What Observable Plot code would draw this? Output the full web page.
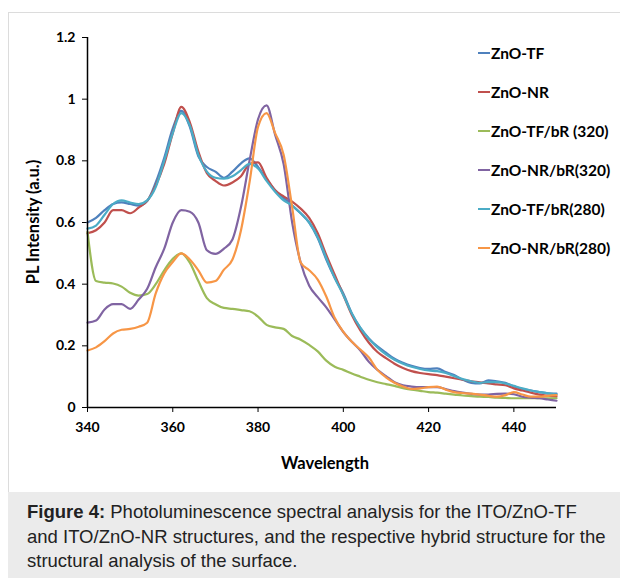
<!DOCTYPE html>
<html><head><meta charset="utf-8">
<script src="https://cdn.jsdelivr.net/npm/d3@7"></script>
<script src="https://cdn.jsdelivr.net/npm/@observablehq/plot@0.6"></script>
<style>
body{margin:0;background:#fff;}
#fig{position:relative;width:620px;height:578px;overflow:hidden;background:#fff;}
#frame{position:absolute;left:8px;top:12px;width:640px;height:481px;border:1px solid #dcdcdc;box-sizing:border-box;}
#chart{position:absolute;left:0;top:0;}
.title{position:absolute;font:bold 16.5px Lato, sans-serif;color:#000;white-space:nowrap;}
#legend .row{position:absolute;left:478px;display:flex;align-items:center;white-space:nowrap;font:bold 15.5px Lato, sans-serif;color:#000;transform:translateY(-50%);}
#legend .sw{width:12px;height:2px;margin-right:1px;}
#caption{position:absolute;left:8px;top:492px;width:612px;height:86px;background:#ebebeb;font:18.5px "Liberation Sans",Arial,sans-serif;color:#222;padding:8px 0 0 19px;box-sizing:border-box;line-height:24.5px;white-space:nowrap;}
</style></head>
<body>
<div id="fig">
  <div id="frame"></div>
  <div id="chart"></div>
  <div class="title" id="ytitle" style="left:33px;top:222px;transform:translate(-50%,-50%) rotate(-90deg);">PL Intensity (a.u.)</div>
  <div class="title" id="xtitle" style="left:325px;top:463px;transform:translate(-50%,-50%);">Wavelength</div>
  <div id="legend"></div>
  <div id="caption"><b>Figure 4:</b> Photoluminescence spectral analysis for the ITO/ZnO-TF<br>and ITO/ZnO-NR structures, and the respective hybrid structure for the<br>structural analysis of the surface.</div>
</div>
<script>
const wavelength = d3.range(340, 451, 2);
const xTicks = [340, 360, 380, 400, 420, 440];
const yTicks = [0, 0.2, 0.4, 0.6, 0.8, 1, 1.2];
const seriesNames = ["ZnO-TF", "ZnO-NR", "ZnO-TF/bR (320)", "ZnO-NR/bR(320)", "ZnO-TF/bR(280)", "ZnO-NR/bR(280)"];
const seriesColors = ["#4F81BD", "#C0504D", "#9BBB59", "#8064A2", "#4BACC6", "#F79646"];

const znoTF = [0.600,0.615,0.640,0.660,0.665,0.660,0.655,0.670,0.730,0.810,0.905,0.962,0.910,0.815,0.780,0.765,0.745,0.765,0.792,0.808,0.780,0.740,0.705,0.680,0.655,0.630,0.600,0.550,0.480,0.420,0.370,0.305,0.258,0.224,0.198,0.178,0.158,0.145,0.135,0.128,0.125,0.127,0.115,0.105,0.090,0.080,0.078,0.088,0.085,0.080,0.068,0.060,0.055,0.050,0.046,0.045];
const znoNR = [0.565,0.575,0.600,0.640,0.640,0.630,0.648,0.670,0.720,0.790,0.890,0.975,0.925,0.830,0.760,0.735,0.720,0.730,0.750,0.790,0.795,0.745,0.705,0.685,0.668,0.645,0.615,0.565,0.495,0.430,0.365,0.300,0.250,0.210,0.180,0.160,0.142,0.128,0.118,0.112,0.108,0.105,0.100,0.095,0.090,0.085,0.082,0.078,0.075,0.072,0.062,0.055,0.048,0.042,0.038,0.035];
const znoTFbR320 = [0.570,0.410,0.405,0.402,0.392,0.372,0.363,0.368,0.400,0.445,0.482,0.500,0.470,0.410,0.355,0.335,0.323,0.320,0.316,0.312,0.295,0.268,0.260,0.255,0.232,0.220,0.203,0.182,0.152,0.132,0.122,0.110,0.100,0.090,0.082,0.076,0.070,0.063,0.058,0.054,0.050,0.048,0.045,0.042,0.039,0.037,0.035,0.034,0.032,0.031,0.030,0.030,0.030,0.030,0.030,0.030];
const znoNRbR320 = [0.275,0.282,0.318,0.335,0.335,0.320,0.350,0.385,0.455,0.515,0.600,0.640,0.635,0.600,0.510,0.498,0.515,0.545,0.650,0.800,0.935,0.980,0.885,0.790,0.600,0.470,0.395,0.358,0.325,0.285,0.245,0.213,0.185,0.148,0.122,0.102,0.082,0.072,0.068,0.066,0.066,0.066,0.060,0.053,0.048,0.044,0.042,0.042,0.044,0.045,0.043,0.035,0.032,0.030,0.026,0.022];
const znoTFbR280 = [0.580,0.590,0.625,0.660,0.672,0.665,0.660,0.672,0.715,0.800,0.890,0.955,0.915,0.820,0.765,0.745,0.742,0.750,0.770,0.790,0.775,0.735,0.700,0.672,0.655,0.630,0.600,0.552,0.485,0.420,0.365,0.305,0.258,0.222,0.195,0.172,0.155,0.142,0.132,0.125,0.120,0.118,0.112,0.102,0.092,0.085,0.080,0.082,0.082,0.078,0.070,0.062,0.055,0.050,0.046,0.042];
const znoNRbR280 = [0.185,0.195,0.215,0.240,0.252,0.255,0.262,0.275,0.370,0.435,0.472,0.500,0.480,0.445,0.405,0.410,0.447,0.480,0.575,0.730,0.910,0.955,0.890,0.820,0.650,0.470,0.445,0.415,0.360,0.290,0.245,0.213,0.188,0.162,0.122,0.098,0.080,0.068,0.060,0.062,0.066,0.068,0.058,0.050,0.047,0.045,0.042,0.038,0.035,0.040,0.050,0.042,0.035,0.035,0.038,0.040];

const seriesValues = [znoTF, znoNR, znoTFbR320, znoNRbR320, znoTFbR280, znoNRbR280];
const data = seriesNames.flatMap((name, k) => seriesValues[k].map((v, i) => ({w: wavelength[i], v, name})));

const chart = Plot.plot({
  width: 620, height: 492,
  marginLeft: 87, marginRight: 64, marginTop: 37, marginBottom: 85,
  x: {domain: [340, 450]},
  y: {domain: [0, 1.2]},
  color: {domain: seriesNames, range: seriesColors},
  style: {fontFamily: "Lato, sans-serif", fontWeight: "bold", fontSize: "14px", color: "#000", background: "transparent", overflow: "visible"},
  marks: [
    Plot.axisY({ticks: yTicks, tickFormat: d => String(+d.toFixed(1)), tickSize: 5, tickPadding: 7, label: null}),
    Plot.axisX({ticks: xTicks, tickFormat: d => String(d), tickSize: 5, tickPadding: 10, label: null}),
    Plot.lineY(data, {x: "w", y: "v", z: "name", stroke: "name", strokeWidth: 2.2, curve: "monotone-x"}),
    Plot.ruleX([340], {stroke: "#000", strokeWidth: 1.5}),
    Plot.ruleY([0], {stroke: "#000", strokeWidth: 1.5})
  ]
});
document.getElementById("chart").appendChild(chart);

const legendY = [53, 92, 131, 170, 209, 248];
const legend = document.getElementById("legend");
seriesNames.forEach((name, i) => {
  const row = document.createElement("div");
  row.className = "row";
  row.style.top = legendY[i] + "px";
  const sw = document.createElement("span");
  sw.className = "sw";
  sw.style.background = seriesColors[i];
  const t = document.createElement("span");
  t.textContent = name;
  row.appendChild(sw); row.appendChild(t);
  legend.appendChild(row);
});
</script>
</body></html>
